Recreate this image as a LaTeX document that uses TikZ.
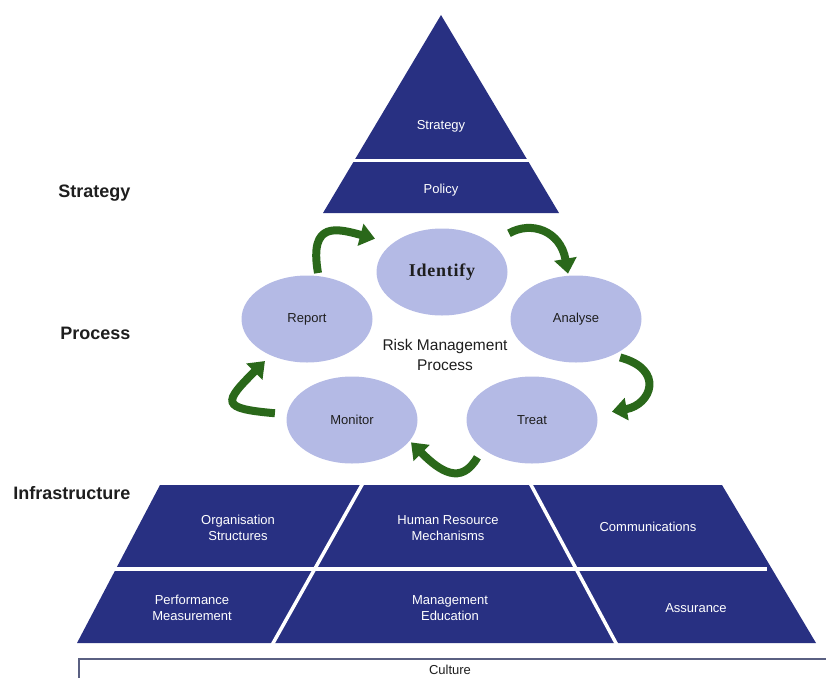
\documentclass[tikz,border=0pt]{standalone}
\usepackage{fontspec}
\setmainfont{Liberation Sans}
\newfontfamily\idfont[LetterSpace=4]{Liberation Serif}
\usepackage{tikz}
\usetikzlibrary{shapes.geometric,arrows.meta}
\definecolor{navy}{RGB}{40,48,130}
\definecolor{lav}{RGB}{180,186,229}
\definecolor{leaf}{RGB}{42,104,26}
\definecolor{ink}{RGB}{30,30,30}
\definecolor{frame}{RGB}{90,96,130}

\begin{document}
\begin{tikzpicture}[x=1pt,y=-1pt,
    blk/.style={fill=navy},
    cut/.style={draw=white,line width=3.5pt},
    txt/.style={text=white,align=center,font=\fontsize{13}{16}\selectfont},
    ring/.style={ellipse,fill=lav,minimum width=131pt,minimum height=87pt,inner sep=0pt,
      text=ink,font=\fontsize{13}{16}\selectfont},
    cyc/.style={draw=leaf,line width=8pt,-{Triangle[width=22pt,length=15pt]}},
    lvl/.style={anchor=east,text=ink,font=\bfseries\fontsize{18}{20}\selectfont}]
      \useasboundingbox (0,0) rectangle (826,677);
      % strategy
      \fill[blk] (441,15) coordinate (AP) -- (559,213) coordinate (BR)
        -- (323,213) coordinate (BL) -- cycle;
      \draw[cut,line width=3pt] (352,160) -- (530,160);
      \node[txt] (STR) at (441,126) {Strategy};
      \node[txt] (POL) at (441,190) {Policy};
      % infrastructure
      \fill[blk] (160,485) -- (722,485) -- (816,643) -- (77,643) -- cycle;
      \draw[cut] (110,569) -- (767,569);
      \draw[cut] (363,483) -- (272,645);
      \draw[cut] (530,483) -- (617,645);
      \node[txt] (OS) at (238,528) {Organisation\\Structures};
      \node[txt] (HR) at (448,528) {Human Resource\\Mechanisms};
      \node[txt] (CO) at (648,527) {Communications};
      \node[txt] (PM) at (192,608) {Performance\\Measurement};
      \node[txt] (ME) at (450,608) {Management\\Education};
      \node[txt] (AS) at (696,608) {Assurance};
      % process
      \node[ring] (ID) at (442,272) {\idfont\bfseries\fontsize{18}{20}\selectfont Identify};
      \node[ring] (RE) at (307,319) {Report};
      \node[ring] (AN) at (576,319) {Analyse};
      \node[ring] (MO) at (352,420) {Monitor};
      \node[ring] (TR) at (532,420) {Treat};
      \node[align=center,text=ink,font=\fontsize{15.5}{20}\selectfont] (RMP) at (445,355)
        {Risk Management\\Process};
      \draw[cyc,shorten <=3pt,shorten >=18pt] (RE.75) to[out=100,in=165,looseness=1.8] (ID.150);
      \draw[cyc,shorten <=20pt,shorten >=2pt] (ID.30) to[out=30,in=100,looseness=1.4] (AN.100);
      \draw[cyc,shorten <=8pt,shorten >=15pt] (AN.-45) to[out=-15,in=10,looseness=2.3] (TR.5);
      \draw[cyc,shorten <=10pt,shorten >=2pt] (TR.210) to[out=-120,in=-45,looseness=1.5] (MO.-20);
      \draw[cyc,shorten <=12pt,shorten >=8pt] (MO.175) to[out=175,in=225,looseness=2.8] (RE.225);
      % levels
      \node[lvl] (LS) at (134,193) {Strategy};
      \node[lvl] (LP) at (134,333) {Process};
      \node[lvl] (LI) at (134,493) {Infrastructure};
      % culture
      \draw[frame,line width=1.4pt] (79,690) -- (79,659) -- (830,659);
      \node[text=ink,font=\fontsize{13}{15}\selectfont] (CU) at (450,670) {Culture};
\end{tikzpicture}
\end{document}
